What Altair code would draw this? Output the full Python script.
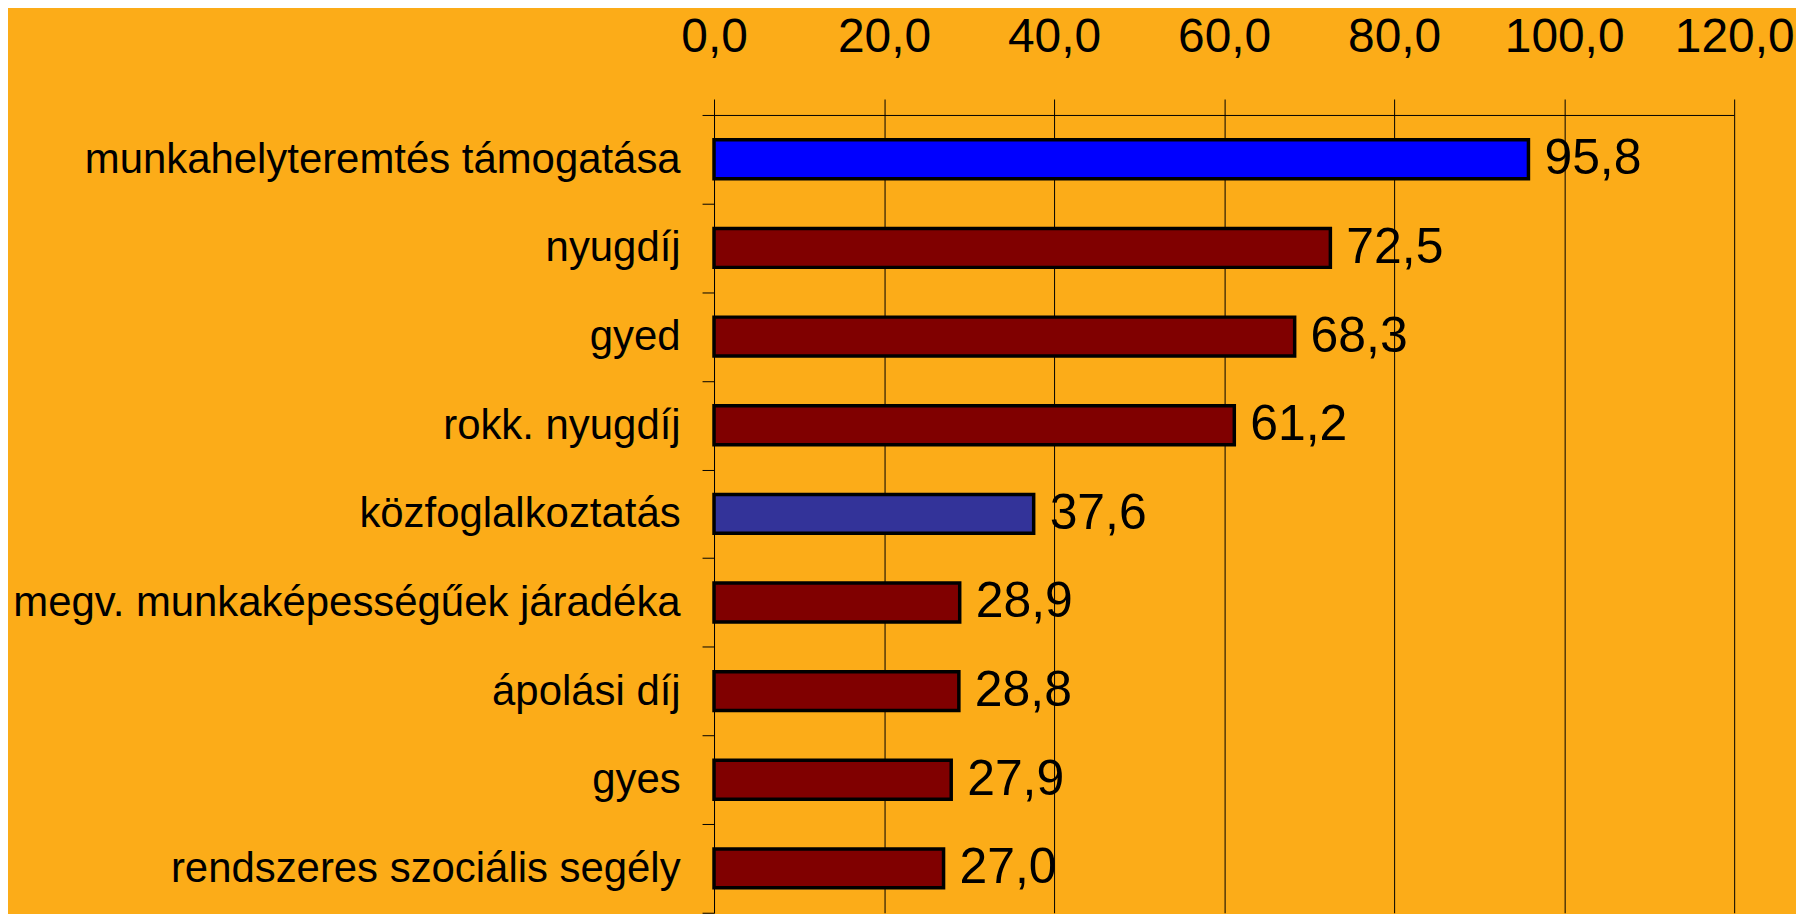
import altair as alt
import pandas as pd

categories = [
    "munkahelyteremtés támogatása",
    "nyugdíj",
    "gyed",
    "rokk. nyugdíj",
    "közfoglalkoztatás",
    "megv. munkaképességűek járadéka",
    "ápolási díj",
    "gyes",
    "rendszeres szociális segély",
]
values = [95.8, 72.5, 68.3, 61.2, 37.6, 28.9, 28.8, 27.9, 27.0]
groups = ["támogatás", "ellátás", "ellátás", "ellátás", "közfoglalkoztatás",
          "ellátás", "ellátás", "ellátás", "ellátás"]
x_ticks = [0, 20, 40, 60, 80, 100, 120]

df = pd.DataFrame({"kategoria": categories, "ertek": values, "csoport": groups})

FONT = "Liberation Sans"
PLOT_H = 800

base = alt.Chart(df).encode(
    y=alt.Y(
        "kategoria:N",
        sort=None,
        scale=alt.Scale(paddingInner=0, paddingOuter=0),
        axis=alt.Axis(
            title=None,
            tickBand="extent",
            tickSize=12,
            tickColor="black",
            tickWidth=1,
            domainColor="black",
            domainWidth=1,
            labelFont=FONT,
            labelFontSize=42,
            labelColor="black",
            labelPadding=22,
            labelLimit=1000,
            grid=False,
        ),
    ),
    x=alt.X(
        "ertek:Q",
        scale=alt.Scale(domain=[0, 120], nice=False, zero=True),
        axis=alt.Axis(
            title=None,
            orient="top",
            values=x_ticks,
            labelExpr="replace(format(datum.value, '.1f'), '.', ',')",
            tickSize=16,
            tickColor="black",
            tickWidth=1,
            domainColor="black",
            domainWidth=1,
            grid=True,
            gridColor="black",
            gridWidth=1,
            gridOpacity=1,
            labelFont=FONT,
            labelFontSize=48,
            labelColor="black",
            labelPadding=38,
            labelFlush=False,
            labelOverlap=False,
        ),
    ),
)

bars = base.mark_bar(stroke="black", strokeWidth=3.5, size=39).encode(
    color=alt.Color(
        "csoport:N",
        scale=alt.Scale(
            domain=["támogatás", "ellátás", "közfoglalkoztatás"],
            range=["#0000FF", "#800000", "#333399"],
        ),
        legend=None,
    )
)

labels = base.transform_calculate(
    cimke="replace(format(datum.ertek, '.1f'), '.', ',')"
).mark_text(
    align="left", baseline="middle", dx=16, font=FONT, fontSize=50, color="black"
).encode(text="cimke:N")

chart = (
    alt.layer(bars, labels)
    .properties(
        width=1023,
        height=PLOT_H,
        autosize=alt.AutoSizeParams(type="none"),
        padding={"left": 708, "top": 106, "right": 62, "bottom": 0},
        background="#FCAC18",
    )
    .configure_view(stroke=None)
)

chart.save("out.html", embed_options={"renderer": "svg", "actions": False})
